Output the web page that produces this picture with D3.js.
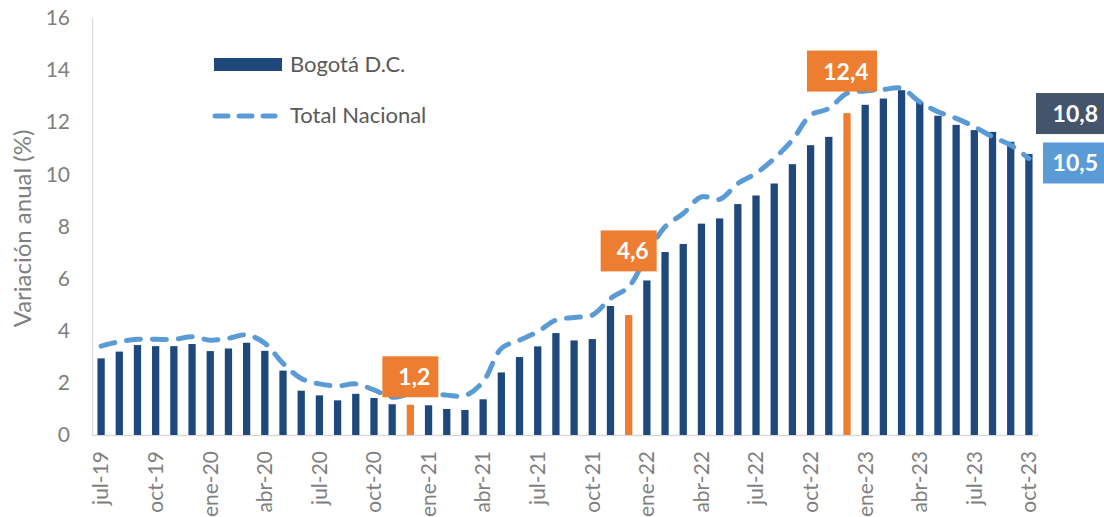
<!DOCTYPE html>
<html>
<head>
<meta charset="utf-8">
<script src="https://cdn.jsdelivr.net/npm/d3@7"></script>
<style>
  body { margin: 0; background: #fff; }
  svg { display: block; font-family: Lato, "Open Sans", sans-serif; }
</style>
</head>
<body>
<div id="chart"></div>
<script>
const WIDTH = 1104;
const HEIGHT = 517;
const PLOT = { left: 92, right: 1038, top: 18, bottom: 435 };

// data
const months = [
  "jul-19", "ago-19", "sep-19", "oct-19", "nov-19", "dic-19",
  "ene-20", "feb-20", "mar-20", "abr-20", "may-20", "jun-20", "jul-20", "ago-20", "sep-20", "oct-20", "nov-20", "dic-20",
  "ene-21", "feb-21", "mar-21", "abr-21", "may-21", "jun-21", "jul-21", "ago-21", "sep-21", "oct-21", "nov-21", "dic-21",
  "ene-22", "feb-22", "mar-22", "abr-22", "may-22", "jun-22", "jul-22", "ago-22", "sep-22", "oct-22", "nov-22", "dic-22",
  "ene-23", "feb-23", "mar-23", "abr-23", "may-23", "jun-23", "jul-23", "ago-23", "sep-23", "oct-23"
];
const bogota = [
  2.94, 3.20, 3.45, 3.41, 3.41, 3.49,
  3.22, 3.32, 3.54, 3.23, 2.47, 1.70, 1.52, 1.33, 1.58, 1.42, 1.18, 1.16,
  1.14, 1.00, 0.96, 1.37, 2.40, 2.99, 3.40, 3.91, 3.63, 3.68, 4.95, 4.60,
  5.93, 7.02, 7.33, 8.11, 8.31, 8.86, 9.19, 9.65, 10.39, 11.12, 11.44, 12.35,
  12.67, 12.91, 13.23, 12.78, 12.25, 11.90, 11.70, 11.63, 11.25, 10.78
];
const nacional = [
  3.41, 3.58, 3.67, 3.67, 3.67, 3.77,
  3.64, 3.71, 3.84, 3.52, 2.75, 2.17, 1.96, 1.88, 1.96, 1.73, 1.45, 1.58,
  1.60, 1.53, 1.51, 2.05, 3.32, 3.64, 3.96, 4.41, 4.51, 4.60, 5.24, 5.69,
  6.90, 7.99, 8.50, 9.14, 9.04, 9.65, 10.04, 10.61, 11.32, 12.27, 12.53, 13.11,
  13.20, 13.26, 13.30, 12.78, 12.40, 12.15, 11.83, 11.44, 11.12, 10.61
];
const tickMonths = months.filter((m) => /^(jul|oct|ene|abr)/.test(m));
const yTicks = [0, 2, 4, 6, 8, 10, 12, 14, 16];
const highlighted = ["dic-20", "dic-21", "dic-22"];
const highlightLabels = ["1,2", "4,6", "12,4"];
const endLabels = ["10,8", "10,5"];

const data = months.map((m, i) => ({ month: m, bog: bogota[i], nal: nacional[i] }));

const svg = d3.select("#chart").append("svg")
  .attr("width", WIDTH)
  .attr("height", HEIGHT);

const x = d3.scaleBand()
  .domain(months)
  .range([PLOT.left, PLOT.right])
  .paddingInner(0.6)
  .paddingOuter(0.3);

const y = d3.scaleLinear()
  .domain([0, 16])
  .range([PLOT.bottom, PLOT.top]);

// y axis
const yAxis = svg.append("g")
  .attr("transform", `translate(${PLOT.left},0)`)
  .call(d3.axisLeft(y).tickValues(yTicks).tickSize(0).tickPadding(22));
yAxis.select(".domain").attr("stroke", "#d9d9d9").attr("stroke-width", 1.3);
yAxis.selectAll("text")
  .attr("fill", "#7f7f7f")
  .attr("font-size", 21)
  .attr("font-family", "Lato, sans-serif");

// x axis
const xAxis = svg.append("g")
  .attr("transform", `translate(0,${PLOT.bottom})`)
  .call(d3.axisBottom(x).tickValues(tickMonths).tickSize(0).tickPadding(0));
xAxis.select(".domain").attr("stroke", "#d9d9d9").attr("stroke-width", 1.5);
xAxis.selectAll("text")
  .attr("fill", "#7f7f7f")
  .attr("font-size", 21)
  .attr("font-family", "Lato, sans-serif")
  .attr("text-anchor", "end")
  .attr("transform", "rotate(-90)")
  .attr("x", -16)
  .attr("y", 0)
  .attr("dy", "0.35em");

// y axis title
svg.append("text")
  .attr("transform", `translate(31,${(PLOT.top + PLOT.bottom) / 2 + 2}) rotate(-90)`)
  .attr("text-anchor", "middle")
  .attr("fill", "#7f7f7f")
  .attr("font-size", 24)
  .text("Variación anual (%)");

// bars
svg.append("g").selectAll("rect")
  .data(data)
  .join("rect")
    .attr("x", (d) => x(d.month))
    .attr("width", x.bandwidth())
    .attr("y", (d) => y(d.bog))
    .attr("height", (d) => y(0) - y(d.bog))
    .attr("fill", (d) => highlighted.includes(d.month) ? "#ed7d31" : "#1f497d");

// total nacional line
const line = d3.line()
  .x((d) => x(d.month) + x.bandwidth() / 2)
  .y((d) => y(d.nal))
  .curve(d3.curveCatmullRom.alpha(0.5));

svg.append("path")
  .datum(data)
  .attr("d", line)
  .attr("fill", "none")
  .attr("stroke", "#5b9bd5")
  .attr("stroke-width", 5)
  .attr("stroke-linecap", "round")
  .attr("stroke-dasharray", "14,12");

// orange value boxes
const boxTops = [3.02, 7.85, 14.75];
highlighted.forEach((m, i) => {
  const cx = x(m) + x.bandwidth() / 2 + (i === 2 ? -5 : 0);
  const w = highlightLabels[i].length > 3 ? 70 : 56;
  const g = svg.append("g");
  g.append("rect")
    .attr("x", cx - w / 2)
    .attr("y", y(boxTops[i]))
    .attr("width", w)
    .attr("height", 41)
    .attr("fill", "#ed7d31");
  g.append("text")
    .attr("x", cx + 4)
    .attr("y", y(boxTops[i]) + 29)
    .attr("text-anchor", "middle")
    .attr("fill", "#fff")
    .attr("font-weight", "bold")
    .attr("font-size", 23)
    .text(highlightLabels[i]);
});

// end labels
const last = data[data.length - 1];
const endBoxes = [
  { text: endLabels[0], top: y(last.bog) - 61, left: 1036, fill: "#44546a" },
  { text: endLabels[1], top: y(last.nal) - 16, left: 1043, fill: "#5b9bd5" },
];
endBoxes.forEach((b) => {
  svg.append("rect")
    .attr("x", b.left)
    .attr("y", b.top)
    .attr("width", WIDTH - b.left)
    .attr("height", 41)
    .attr("fill", b.fill);
  svg.append("text")
    .attr("x", 1098)
    .attr("y", b.top + 29)
    .attr("text-anchor", "end")
    .attr("fill", "#fff")
    .attr("font-weight", "bold")
    .attr("font-size", 23)
    .text(b.text);
});

// legend
const legend = svg.append("g");
legend.append("rect")
  .attr("x", 214)
  .attr("y", 58)
  .attr("width", 68)
  .attr("height", 13)
  .attr("fill", "#1f497d");
legend.append("text")
  .attr("x", 290)
  .attr("y", 72)
  .attr("fill", "#595959")
  .attr("font-size", 22)
  .text("Bogotá D.C.");
legend.append("line")
  .attr("x1", 215)
  .attr("x2", 275)
  .attr("y1", 116)
  .attr("y2", 116)
  .attr("stroke", "#5b9bd5")
  .attr("stroke-width", 5)
  .attr("stroke-linecap", "round")
  .attr("stroke-dasharray", "13,11");
legend.append("text")
  .attr("x", 290)
  .attr("y", 123)
  .attr("fill", "#595959")
  .attr("font-size", 22)
  .text("Total Nacional");
</script>
</body>
</html>
